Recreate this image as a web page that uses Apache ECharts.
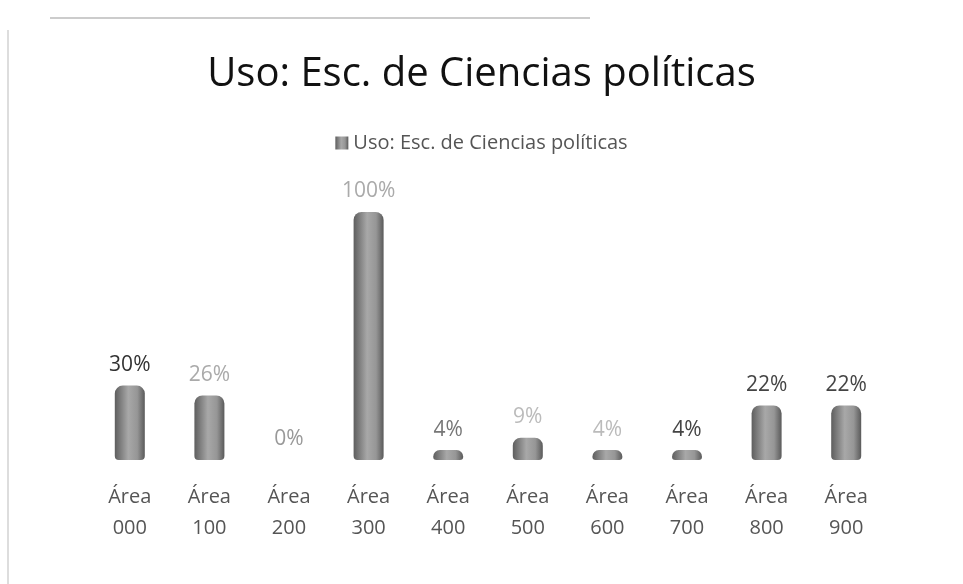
<!DOCTYPE html>
<html>
<head>
<meta charset="utf-8">
<script src="https://cdn.jsdelivr.net/npm/echarts@6/dist/echarts.min.js"></script>
<style>
html,body{margin:0;padding:0;background:#fff;}
#c{width:963px;height:584px;}
</style>
</head>
<body>
<div id="c"></div>
<script>
var titleText = 'Uso: Esc. de Ciencias políticas';
var seriesName = 'Uso: Esc. de Ciencias políticas';
var categories = ['Área\n000','Área\n100','Área\n200','Área\n300','Área\n400','Área\n500','Área\n600','Área\n700','Área\n800','Área\n900'];
var values = [30, 26, 0, 100, 4, 9, 4, 4, 22, 22];
var labelColors = ['#333','#aaa','#999','#aaa','#777','#bbb','#bbb','#444','#444','#444'];

var barGrad = new echarts.graphic.LinearGradient(0,0,1,0,[
  {offset:0,color:'#5e5e5e'},
  {offset:0.45,color:'#a8a8a8'},
  {offset:0.75,color:'#969696'},
  {offset:1,color:'#5a5a5a'}
]);

var chart = echarts.init(document.getElementById('c'), null, {renderer:'canvas'});
chart.setOption({
  backgroundColor:'#ffffff',
  animation:false,
  title:{
    text:titleText,
    left:'center',
    top:50,
    textStyle:{fontFamily:'Open Sans',fontSize:40,fontWeight:'normal',color:'#111'}
  },
  legend:{
    data:[seriesName],
    top:128,
    left:'center',
    itemWidth:13,
    itemHeight:13,
    itemGap:8,
    icon:'rect',
    textStyle:{fontFamily:'Open Sans',fontSize:20,color:'#555'}
  },
  grid:{left:90,right:77,top:212,bottom:124,containLabel:false},
  xAxis:{
    type:'category',
    data:categories,
    axisLine:{show:false},
    axisTick:{show:false},
    axisLabel:{fontFamily:'Open Sans',fontSize:20,color:'#555',lineHeight:31,margin:22}
  },
  yAxis:{
    type:'value',
    min:0,max:100,
    show:false,
    splitLine:{show:false}
  },
  graphic:[
    {type:'line',shape:{x1:50,y1:18,x2:590,y2:18},style:{stroke:'#ccc',lineWidth:2}},
    {type:'line',shape:{x1:8,y1:30,x2:8,y2:584},style:{stroke:'#ddd',lineWidth:2}}
  ],
  series:[{
    name:seriesName,
    type:'bar',
    data:values.map(function(v,i){return {value:v,label:{color:labelColors[i]}};}),
    barWidth:30,
    itemStyle:{color:barGrad,borderRadius:[8,8,4,4]},
    label:{show:true,position:'top',distance:10,formatter:'{c}%',fontFamily:'Open Sans',fontSize:21}
  }]
});
</script>
</body>
</html>
